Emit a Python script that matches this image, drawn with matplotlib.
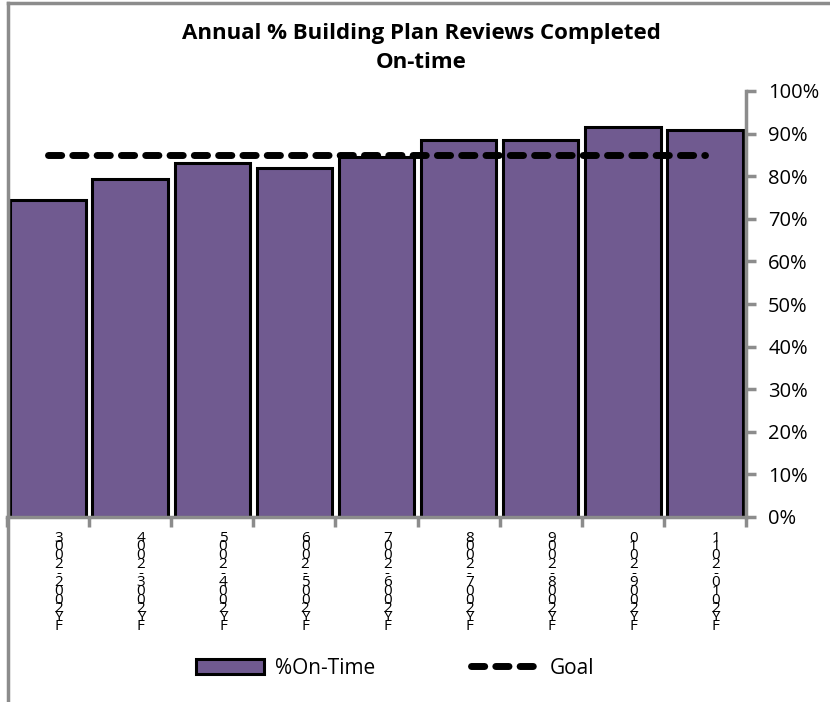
import numpy as np
import matplotlib
matplotlib.use("Agg")
import matplotlib.pyplot as plt
from matplotlib.lines import Line2D
from matplotlib.patches import Patch

# annual figures
years = ["FY2002-2003", "FY2003-2004", "FY2004-2005", "FY2005-2006", "FY2006-2007",
         "FY2007-2008", "FY2008-2009", "FY2009-2010", "FY2010-2011"]
on_time = [74.5, 79.3, 83.0, 82.0, 84.6, 88.6, 88.6, 91.6, 90.8]
goal = [85, 85, 85, 85, 85, 85, 85, 85, 85]

bar_color = "#705A90"
axis_gray = "#8C8C8C"
goal_dash = (0, (1.9, 1.6))

plt.rcParams['font.family'] = ['Open Sans', 'DejaVu Sans']

fig = plt.figure(figsize=(8.3, 7.02), dpi=100)
ax = fig.add_axes([7/830, 1 - 517/702, (746-7)/830, (517-91)/702])

x = np.arange(len(years))
ax.bar(x, on_time, width=0.92, color=bar_color, edgecolor="black", linewidth=2.2, zorder=2)
ax.plot(x, goal, color="black", linewidth=5, linestyle=goal_dash,
        dash_capstyle="round", zorder=3)

ax.set_xlim(-0.5, len(years) - 0.5)
ax.set_ylim(0, 100)

# percent scale on the right
ax.yaxis.tick_right()
ax.set_yticks(np.arange(0, 101, 10))
ax.set_yticklabels(["%d%%" % v for v in range(0, 101, 10)], fontsize=14.5)
ax.tick_params(axis="y", direction="out", length=7, width=2.5, color=axis_gray, pad=9)

# category boundaries get the ticks, labels are stacked characters
ax.set_xticks(np.arange(-0.5, len(years), 1.0))
ax.set_xticklabels([])
ax.tick_params(axis="x", direction="out", length=7, width=2.5, color=axis_gray)
for xi, lab in zip(x, years):
    ax.text(xi + 0.13, -3.2, "\n".join(reversed(lab)), ha="center", va="top",
            fontsize=11, linespacing=0.44, transform=ax.transData)

for side in ["left", "top"]:
    ax.spines[side].set_visible(False)
for side in ["right", "bottom"]:
    ax.spines[side].set_color(axis_gray)
    ax.spines[side].set_linewidth(2.5)

fig.text(421/830, 1 - 48/702, "Annual % Building Plan Reviews Completed\nOn-time",
         ha="center", va="center", fontsize=16, fontweight="bold", linespacing=1.55)

# chart frame
fig.add_artist(Line2D([8/830, 8/830], [0, 1 - 3/702], color=axis_gray, linewidth=2.5))
fig.add_artist(Line2D([8/830, 1], [1 - 3/702, 1 - 3/702], color=axis_gray, linewidth=2.5))

handles = [Patch(facecolor=bar_color, edgecolor="black", linewidth=2.2),
           Line2D([0], [0], color="black", linewidth=5, linestyle=goal_dash,
                  dash_capstyle="round")]
fig.legend(handles, ["%On-Time", "Goal"], loc="center", bbox_to_anchor=(395/830, 1 - 668/702),
           ncol=2, frameon=False, fontsize=15, handlelength=3.3, handleheight=0.7,
           columnspacing=4.6, handletextpad=0.5)

fig.savefig("out.png", dpi=100)
